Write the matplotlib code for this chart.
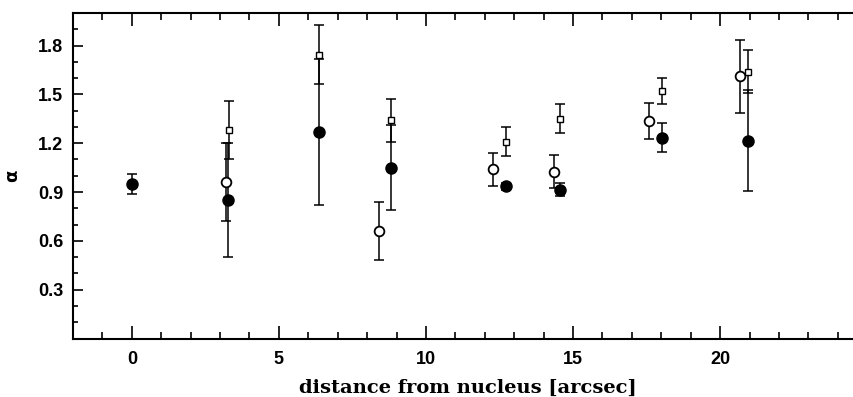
import matplotlib
matplotlib.use("Agg")
import matplotlib.pyplot as plt
from matplotlib.ticker import MultipleLocator

# filled circles
fx = [0.0, 3.27, 6.36, 8.80, 12.73, 14.54, 18.03, 20.94]
fy = [0.95, 0.85, 1.27, 1.05, 0.935, 0.915, 1.235, 1.215]
fe = [0.06, 0.35, 0.45, 0.26, 0.02, 0.04, 0.09, 0.31]

# open circles
ox = [3.19, 8.40, 12.28, 14.36, 17.58, 20.67]
oy = [0.96, 0.66, 1.04, 1.025, 1.335, 1.61]
oe = [0.24, 0.18, 0.10, 0.10, 0.11, 0.225]

# open squares
sx = [3.29, 6.36, 8.80, 12.73, 14.54, 18.03, 20.94]
sy = [1.28, 1.745, 1.34, 1.21, 1.35, 1.52, 1.64]
se = [0.18, 0.18, 0.13, 0.09, 0.09, 0.08, 0.13]

xticks = [0, 5, 10, 15, 20]
yticks = [0.3, 0.6, 0.9, 1.2, 1.5, 1.8]

fig = plt.figure(figsize=(8.54, 3.97), dpi=100)
ax = fig.add_axes([73/854, 1-338.5/397, 1-73/854, (338.5-13)/397])

ekw = dict(fmt='none', ecolor='black', elinewidth=1.1, capsize=3.6, capthick=1.1)
ax.errorbar(fx, fy, yerr=fe, zorder=2, **ekw)
ax.errorbar(ox, oy, yerr=oe, zorder=2, **ekw)
ax.errorbar(sx, sy, yerr=se, zorder=2, **ekw)

ax.plot(sx, sy, ls='none', marker='s', ms=5, mfc='white', mec='black', mew=1.0, zorder=3)
ax.plot(ox, oy, ls='none', marker='o', ms=7, mfc='white', mec='black', mew=1.3, zorder=3)
ax.plot(fx, fy, ls='none', marker='o', ms=8, mfc='black', mec='black', mew=1.0, zorder=4)

ax.set_xlim(-2, 24.55)
ax.set_ylim(0, 2.0)
ax.set_xticks(xticks)
ax.set_yticks(yticks)
ax.xaxis.set_minor_locator(MultipleLocator(1))
ax.yaxis.set_minor_locator(MultipleLocator(0.1))

for s in ['left', 'bottom', 'top']:
    ax.spines[s].set_linewidth(1.5)
ax.spines['right'].set_visible(False)

ax.tick_params(axis='x', which='major', direction='in', length=9.5, width=1.2, top=True, bottom=True, pad=9)
ax.tick_params(axis='x', which='minor', direction='in', length=5, width=1.2, top=True, bottom=True)
ax.tick_params(axis='y', which='major', direction='in', length=7, width=1.2, left=True, right=False, pad=7)
ax.tick_params(axis='y', which='minor', direction='in', length=3.6, width=1.2, left=True, right=False)

for lab in ax.get_xticklabels() + ax.get_yticklabels():
    lab.set_family('Liberation Sans')
    lab.set_fontweight('bold')
    lab.set_fontsize(13)

ax.set_xlabel('distance from nucleus [arcsec]', family='DejaVu Serif', fontweight='bold', fontsize=14)
ax.xaxis.set_label_coords(0.506, -0.125)
ax.set_ylabel('α', family='DejaVu Sans', fontweight='bold', fontsize=13)
ax.yaxis.set_label_coords(-0.066, 0.5)

fig.savefig('out.png', dpi=100)
